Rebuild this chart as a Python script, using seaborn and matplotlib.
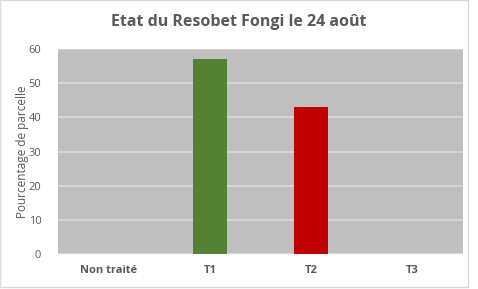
import matplotlib
matplotlib.use("Agg")
import matplotlib.pyplot as plt
import seaborn as sns
import pandas as pd
from matplotlib.patches import Rectangle

categories = ["Non traité", "T1", "T2", "T3"]
values = [0, 57, 43, 0]
colors = ["#BFBFBF", "#548235", "#C00000", "#BFBFBF"]
yticks = [0, 10, 20, 30, 40, 50, 60]

sns.set_style("white")
plt.rcParams['font.family'] = ['Open Sans', 'DejaVu Sans']

df = pd.DataFrame({"cat": categories, "val": values})

fig = plt.figure(figsize=(4.78, 2.89), dpi=100)
ax = fig.add_axes([58/478, 1-254/289, (463-58)/478, (254-49)/289])
ax.set_facecolor("#BFBFBF")
sns.barplot(data=df, x="cat", y="val", hue="cat", palette=colors, width=0.33,
            saturation=1, linewidth=0, legend=False, ax=ax, zorder=3)
ax.set_ylim(0, 60)
ax.set_yticks(yticks)
ax.yaxis.grid(True, color="#D9D9D9", linewidth=1.2, zorder=0)
ax.set_axisbelow(True)
for s in ax.spines.values():
    s.set_visible(False)
ax.tick_params(axis="both", length=0, colors="#595959", labelsize=8)
ax.tick_params(axis="y", pad=12)
ax.tick_params(axis="x", pad=8)
for lbl in ax.get_xticklabels():
    lbl.set_fontweight("bold")
ax.set_xlabel("")
ax.set_ylabel("Pourcentage de parcelle", color="#595959", fontsize=8.5)
ax.yaxis.set_label_coords((29 - 58) / 405, 0.5)
fig.text(0.5, 1-22/289, "Etat du Resobet Fongi le 24 août", ha="center", va="center",
         fontsize=11.5, fontweight="bold", color="#595959")
fig.patches.append(Rectangle((0, 2/289), 468/478, 1-2/289, transform=fig.transFigure,
                             fill=False, edgecolor="#D9D9D9", linewidth=1))
fig.savefig("out.png", dpi=100)
